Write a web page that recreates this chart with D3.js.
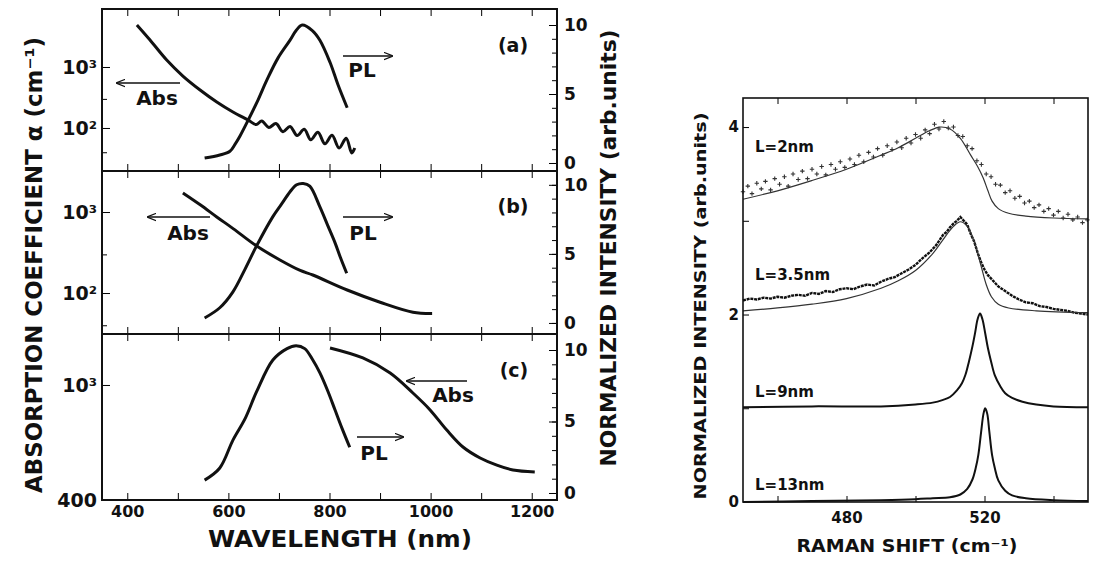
<!DOCTYPE html>
<html>
<head>
<meta charset="utf-8">
<script src="https://cdn.jsdelivr.net/npm/d3@7"></script>
<style>
  body { margin: 0; background: #fff; }
  text { font-family: "DejaVu Sans", "Liberation Sans", sans-serif; font-weight: bold; fill: #111; }
</style>
</head>
<body>
<svg id="chart" width="1094" height="561"></svg>
<script>
// ---- left figure data: wavelength (nm) vs absorption (cm-1, log) and PL (arb. units) ----
var wlTicks = [400, 500, 600, 700, 800, 900, 1000, 1100, 1200];
var absA = [[419,4890],[445,2770],[478,1300],[510,711],[544,420],[577,267],[609,183],[639,135],
  [655,114],[666,130],[680,102],[694,118],[708,87],[722,106],[736,75],[750,95],[763,64],[777,85],
  [791,55],[805,76],[819,47],[833,68],[844,39],[850,47]];
var plA = [[553,0.36],[583,0.58],[603,0.85],[613,1.35],[623,1.96],[639,3.1],[659,4.6],[676,6.0],[698,7.6],
  [722,8.9],[734,9.6],[746,10.0],[766,9.6],[781,8.9],[801,7.3],[817,5.65],[835,4.0]];
var absB = [[510,1720],[545,1220],[577,870],[610,620],[656,380],[702,256],[742,190],[767,167],
  [835,109],[900,77],[965,58],[1003,56]];
var plB = [[553,0.36],[583,1.1],[609,2.25],[633,3.9],[656,5.6],[688,7.7],[705,8.6],[722,9.5],
  [735,10.0],[748,10.1],[761,9.9],[781,8.4],[796,7.1],[811,5.8],[822,4.7],[834,3.6]];
var absC = [[801,1343],[866,1240],[920,1100],[965,938],[999,820],[1032,698],[1064,610],
  [1098,559],[1131,528],[1163,508],[1206,500]];
var plC = [[553,0.9],[583,1.75],[609,3.7],[633,5.2],[656,7.1],[688,9.3],[716,10.1],[734,10.3],
  [751,10.1],[767,9.3],[781,8.4],[797,7.1],[811,5.8],[825,4.5],[840,3.2]];

// ---- right figure data: Raman shift (cm-1) vs normalized intensity ----
var ramanTicks = [460, 480, 500, 520, 540];
var l2Data = [[450,3.31],[451.4,3.37],[452.6,3.29],[454,3.4],[455.3,3.34],[456.5,3.42],[458,3.33],
  [459.2,3.45],[460.6,3.39],[462,3.47],[463.1,3.37],[464.5,3.5],[466,3.44],[467.2,3.53],[468.7,3.45],
  [470,3.55],[471.4,3.5],[472.8,3.58],[474,3.49],[475.5,3.6],[476.8,3.55],[478.2,3.63],[479.5,3.57],
  [481,3.66],[482.3,3.6],[483.6,3.7],[485,3.63],[486.4,3.73],[487.8,3.68],[489,3.77],[490.5,3.7],
  [491.8,3.8],[493.2,3.76],[494.6,3.84],[496,3.78],[497.3,3.88],[498.7,3.83],[500,3.92],[501.5,3.88],
  [502.8,3.97],[504.1,3.93],[505.5,4.03],[506.8,3.98],[508.2,4.06],[509.5,3.99],[511,4.0],[512.3,3.91],
  [513.7,3.9],[515,3.8],[516.4,3.77],[517.8,3.64],[519.1,3.6],[520.5,3.5],[521.9,3.47],[523.2,3.39],
  [524.6,3.38],[526,3.3],[527.4,3.32],[528.8,3.24],[530.2,3.26],[531.6,3.19],[533,3.21],[534.4,3.14],
  [535.8,3.17],[537.2,3.1],[538.6,3.13],[540,3.06],[541.4,3.1],[542.8,3.03],[544.2,3.07],[545.6,3.01],
  [547,3.04],[548.4,2.98],[549.8,3.01]];
var l2Fit = [[450,3.23],[460,3.32],[470,3.43],[480,3.55],[490,3.7],[495,3.78],[500,3.88],[504,3.96],
  [507,4.0],[510,3.98],[513,3.88],[516,3.7],[518,3.58],[519.6,3.46],[521,3.32],[522.2,3.21],[524,3.13],
  [527,3.08],[532,3.05],[540,3.03],[550,3.02]];
var l35Data = [[450,2.15],[452,2.17],[454,2.16],[456,2.18],[458,2.17],[460,2.19],[462,2.18],[464,2.2],
  [466,2.21],[468,2.2],[470,2.23],[472,2.22],[474,2.25],[476,2.24],[478,2.27],[480,2.28],[482,2.27],
  [484,2.3],[486,2.32],[488,2.31],[490,2.35],[492,2.38],[494,2.4],[496,2.44],[498,2.48],[500,2.53],
  [502,2.6],[504,2.66],[506,2.74],[508,2.85],[509,2.88],[510,2.93],[511,2.97],[512,3.0],[513,3.04],
  [514,3.0],[515,2.96],[516,2.86],[517,2.78],[518,2.66],[519,2.56],[520,2.48],[521,2.42],[522,2.38],
  [523,2.34],[524,2.3],[526,2.25],[528,2.2],[530,2.16],[532,2.13],[534,2.12],[536,2.09],[538,2.08],
  [540,2.06],[542,2.05],[544,2.04],[546,2.02],[548,2.01],[550,2.0]];
var l35Fit = [[450,2.04],[460,2.07],[470,2.11],[480,2.17],[490,2.28],[495,2.36],[500,2.47],[505,2.65],
  [508,2.8],[511,2.94],[513,2.99],[515,2.94],[517,2.78],[519,2.52],[520.5,2.32],[522,2.19],[524,2.11],
  [527,2.07],[535,2.04],[550,2.02]];
var l9 = [[450,1.01],[470,1.02],[490,1.02],[500,1.04],[505,1.06],[508,1.09],[510,1.12],[512,1.19],
  [513.5,1.27],[514.5,1.36],[515.5,1.5],[516.5,1.66],[517.3,1.81],[518,1.95],[518.7,2.01],[519.4,1.95],
  [520.2,1.8],[521,1.64],[521.9,1.5],[523,1.35],[524.5,1.24],[526,1.16],[528,1.11],[531,1.07],
  [535,1.04],[540,1.02],[550,1.01]];
var l13 = [[450,0.0],[470,0.01],[490,0.02],[500,0.03],[505,0.04],[510,0.05],[513,0.08],[515,0.14],
  [516.5,0.24],[517.5,0.37],[518.2,0.5],[519,0.74],[519.7,0.94],[520.2,1.0],[520.8,0.94],[521.4,0.75],
  [522.2,0.5],[523,0.36],[524,0.23],[526,0.12],[528,0.07],[532,0.04],[540,0.02],[550,0.01]];

var svg = d3.select('#chart');

// arrow heads for the Abs / PL annotations
svg.append('defs').append('marker')
  .attr('id', 'head').attr('viewBox', '0 0 10 10').attr('refX', 9).attr('refY', 5)
  .attr('markerWidth', 9).attr('markerHeight', 9).attr('markerUnits', 'userSpaceOnUse')
  .attr('orient', 'auto')
  .append('path').attr('d', 'M0,1L10,5L0,9').attr('fill', 'none').attr('stroke', '#111').attr('stroke-width', 1.4);

function noDomain(g) { g.select('.domain').remove(); }
function blank() { return ''; }

// ================= LEFT FIGURE =================
var L = { left: 102, right: 557 };
var x = d3.scaleLinear().domain([350, 1250]).range([L.left, L.right]);

var panels = [
  { top: 9, bottom: 171, logDom: [19.7, 8930], linDom: [-0.58, 11.16], major: [100, 1000], minor: [40, 300],
    abs: absA, pl: plA, tag: '(a)', tagPos: [513, 52],
    absLab: [157, 105], absArrow: [180, 117, 83], plLab: [362, 77], plArrow: [343, 392, 56] },
  { top: 171, bottom: 334, logDom: [31.2, 3210], linDom: [-0.8, 11.0], major: [100, 1000], minor: [40, 300],
    abs: absB, pl: plB, tag: '(b)', tagPos: [513, 213],
    absLab: [188, 240], absArrow: [210, 148, 217], plLab: [363, 240], plArrow: [343, 392, 217] },
  { top: 334, bottom: 500, logDom: [400, 1501], linDom: [-0.49, 11.12], major: [400, 1000], minor: [],
    abs: absC, pl: plC, tag: '(c)', tagPos: [514, 377],
    absLab: [453, 402], absArrow: [467, 407, 381], plLab: [374, 460], plArrow: [357, 403, 437] }
];

function logLabel(d) { return d === 1000 ? '10\u00B3' : d === 100 ? '10\u00B2' : String(d); }

panels.forEach(function (p, i) {
  var yl = d3.scaleLog().domain(p.logDom).range([p.bottom, p.top]);
  var yr = d3.scaleLinear().domain(p.linDom).range([p.bottom, p.top]);

  svg.append('g').attr('transform', 'translate(0,' + p.top + ')')
    .call(d3.axisTop(x).tickValues(wlTicks).tickSize(-7).tickFormat(blank)).call(noDomain);
  svg.append('g').attr('transform', 'translate(0,' + p.bottom + ')')
    .call(d3.axisBottom(x).tickValues(i === 2 ? wlTicks : wlTicks).tickSize(-7).tickPadding(6)
      .tickFormat(i === 2 ? function (d) { return d % 200 === 0 ? d : ''; } : blank))
    .call(noDomain)
    .attr('font-size', 16);

  svg.append('g').attr('transform', 'translate(' + L.left + ',0)')
    .call(d3.axisLeft(yl).tickValues(p.major).tickSize(-8).tickPadding(5).tickFormat(logLabel))
    .call(noDomain).attr('font-size', 19);
  svg.append('g').attr('transform', 'translate(' + L.left + ',0)')
    .call(d3.axisLeft(yl).tickValues(p.minor).tickSize(-5).tickFormat(blank)).call(noDomain);

  svg.append('g').attr('transform', 'translate(' + L.right + ',0)')
    .call(d3.axisRight(yr).tickValues([0, 5, 10]).tickSize(-8).tickPadding(7))
    .call(noDomain).attr('font-size', 17);
  svg.append('g').attr('transform', 'translate(' + L.right + ',0)')
    .call(d3.axisRight(yr).tickValues(d3.range(0, 11)).tickSize(-5).tickFormat(blank)).call(noDomain);

  var absLine = d3.line().x(function (d) { return x(d[0]); }).y(function (d) { return yl(d[1]); })
    .curve(d3.curveCatmullRom);
  var plLine = d3.line().x(function (d) { return x(d[0]); }).y(function (d) { return yr(d[1]); })
    .curve(d3.curveCatmullRom);
  svg.append('path').datum(p.abs).attr('d', absLine)
    .attr('fill', 'none').attr('stroke', '#111').attr('stroke-width', 3).attr('stroke-linejoin', 'round');
  svg.append('path').datum(p.pl).attr('d', plLine)
    .attr('fill', 'none').attr('stroke', '#111').attr('stroke-width', 3).attr('stroke-linejoin', 'round');

  // annotations
  svg.append('text').attr('x', p.tagPos[0]).attr('y', p.tagPos[1]).attr('text-anchor', 'middle')
    .attr('font-size', 19).text(p.tag);
  svg.append('text').attr('x', p.absLab[0]).attr('y', p.absLab[1]).attr('text-anchor', 'middle')
    .attr('font-size', 20).text('Abs');
  svg.append('line').attr('x1', p.absArrow[0]).attr('x2', p.absArrow[1])
    .attr('y1', p.absArrow[2]).attr('y2', p.absArrow[2])
    .attr('stroke', '#111').attr('stroke-width', 1.4).attr('marker-end', 'url(#head)');
  svg.append('text').attr('x', p.plLab[0]).attr('y', p.plLab[1]).attr('text-anchor', 'middle')
    .attr('font-size', 20).text('PL');
  svg.append('line').attr('x1', p.plArrow[0]).attr('x2', p.plArrow[1])
    .attr('y1', p.plArrow[2]).attr('y2', p.plArrow[2])
    .attr('stroke', '#111').attr('stroke-width', 1.4).attr('marker-end', 'url(#head)');
});

// frame and panel dividers
svg.append('rect').attr('x', L.left).attr('y', 9).attr('width', L.right - L.left).attr('height', 491)
  .attr('fill', 'none').attr('stroke', '#111').attr('stroke-width', 2);
[171, 334].forEach(function (yy) {
  svg.append('line').attr('x1', L.left).attr('x2', L.right).attr('y1', yy).attr('y2', yy)
    .attr('stroke', '#111').attr('stroke-width', 2);
});

svg.append('text').attr('x', 340).attr('y', 547).attr('text-anchor', 'middle')
  .attr('font-size', 23).attr('textLength', 264).attr('lengthAdjust', 'spacingAndGlyphs')
  .text('WAVELENGTH (nm)');
svg.append('text').attr('transform', 'translate(34,265) rotate(-90)').attr('dy', '0.36em')
  .attr('text-anchor', 'middle').attr('font-size', 23).attr('textLength', 456)
  .attr('lengthAdjust', 'spacingAndGlyphs')
  .text('ABSORPTION COEFFICIENT \u03B1 (cm\u207B\u00B9)');
svg.append('text').attr('transform', 'translate(608,248) rotate(-90)').attr('dy', '0.36em')
  .attr('text-anchor', 'middle').attr('font-size', 21).attr('textLength', 437)
  .attr('lengthAdjust', 'spacingAndGlyphs')
  .text('NORMALIZED INTENSITY (arb.units)');

// ================= RIGHT FIGURE =================
var R = { left: 743, right: 1088, top: 98, bottom: 502 };
var xr = d3.scaleLinear().domain([450, 550]).range([R.left, R.right]);
var yi = d3.scaleLinear().domain([0, 4.31]).range([R.bottom, R.top]);

svg.append('g').attr('transform', 'translate(0,' + R.bottom + ')')
  .call(d3.axisBottom(xr).tickValues(ramanTicks).tickSize(-6).tickPadding(10)
    .tickFormat(function (d) { return d === 480 || d === 520 ? d : ''; }))
  .call(noDomain).attr('font-size', 15);
svg.append('g').attr('transform', 'translate(0,' + R.top + ')')
  .call(d3.axisTop(xr).tickValues(ramanTicks).tickSize(-6).tickFormat(blank)).call(noDomain);
svg.append('g').attr('transform', 'translate(' + R.left + ',0)')
  .call(d3.axisLeft(yi).tickValues([0, 1, 2, 3, 4]).tickSize(-6).tickPadding(4)
    .tickFormat(function (d) { return d % 2 === 0 ? d : ''; }))
  .call(noDomain).attr('font-size', 15);

var rLine = d3.line().x(function (d) { return xr(d[0]); }).y(function (d) { return yi(d[1]); });
var rSmooth = d3.line().x(function (d) { return xr(d[0]); }).y(function (d) { return yi(d[1]); })
  .curve(d3.curveCatmullRom);

// L=2nm scattered data points
svg.append('g').selectAll('path').data(l2Data).enter().append('path')
  .attr('transform', function (d) { return 'translate(' + xr(d[0]) + ',' + yi(d[1]) + ')'; })
  .attr('d', 'M-2.2,0H2.2M0,-2.2V2.2')
  .attr('stroke', '#333').attr('stroke-width', 1.1);
svg.append('path').datum(l2Fit).attr('d', rSmooth)
  .attr('fill', 'none').attr('stroke', '#333').attr('stroke-width', 1.2);

svg.append('path').datum(l35Data).attr('d', rLine)
  .attr('fill', 'none').attr('stroke', '#111').attr('stroke-width', 2.4).attr('stroke-dasharray', '3,0.8');
svg.append('path').datum(l35Fit).attr('d', rSmooth)
  .attr('fill', 'none').attr('stroke', '#333').attr('stroke-width', 1.2);

svg.append('path').datum(l9).attr('d', rSmooth)
  .attr('fill', 'none').attr('stroke', '#111').attr('stroke-width', 2);
svg.append('path').datum(l13).attr('d', rSmooth)
  .attr('fill', 'none').attr('stroke', '#111').attr('stroke-width', 2);

svg.append('rect').attr('x', R.left).attr('y', R.top).attr('width', R.right - R.left)
  .attr('height', R.bottom - R.top).attr('fill', 'none').attr('stroke', '#111').attr('stroke-width', 1.6);

var sampleLabels = [['L=2nm', 152], ['L=3.5nm', 280], ['L=9nm', 397], ['L=13nm', 490]];
sampleLabels.forEach(function (s) {
  svg.append('text').attr('x', 755).attr('y', s[1]).attr('font-size', 15).text(s[0]);
});

svg.append('text').attr('x', 907).attr('y', 552).attr('text-anchor', 'middle')
  .attr('font-size', 17).attr('textLength', 221).attr('lengthAdjust', 'spacingAndGlyphs')
  .text('RAMAN SHIFT (cm\u207B\u00B9)');
svg.append('text').attr('transform', 'translate(700,306) rotate(-90)').attr('dy', '0.36em')
  .attr('text-anchor', 'middle').attr('font-size', 16).attr('textLength', 387)
  .attr('lengthAdjust', 'spacingAndGlyphs')
  .text('NORMALIZED INTENSITY (arb.units)');
</script>
</body>
</html>
